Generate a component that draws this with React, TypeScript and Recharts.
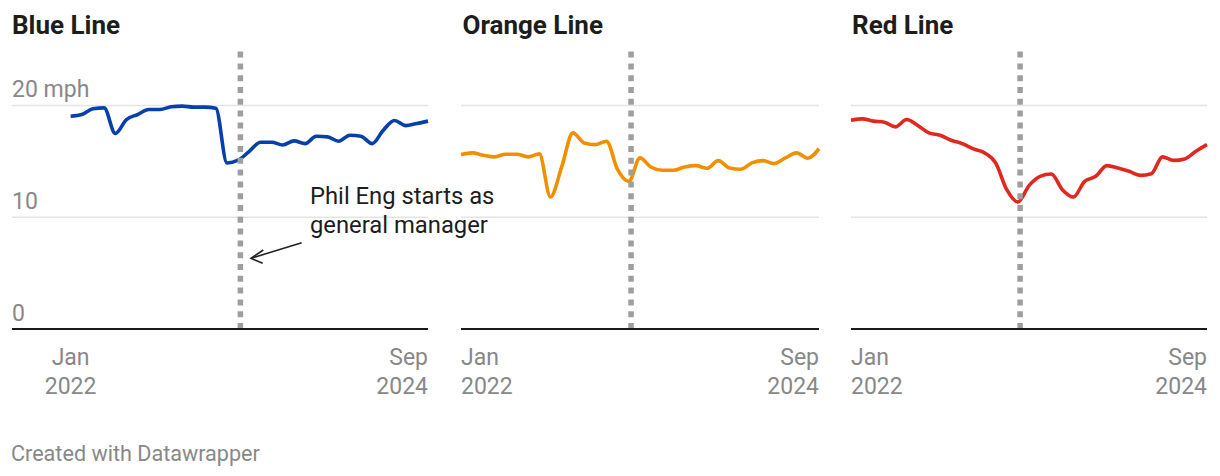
import React from "react";
import { Line, LineChart, ReferenceLine, XAxis, YAxis } from "recharts";

const months = [
  "2022-01", "2022-02", "2022-03", "2022-04", "2022-05", "2022-06", "2022-07", "2022-08", "2022-09", "2022-10", "2022-11", "2022-12",
  "2023-01", "2023-02", "2023-03", "2023-04", "2023-05", "2023-06", "2023-07", "2023-08", "2023-09", "2023-10", "2023-11", "2023-12",
  "2024-01", "2024-02", "2024-03", "2024-04", "2024-05", "2024-06", "2024-07", "2024-08", "2024-09"
];

// average speed, mph
const blueLine = [
  19.04, 19.19, 19.7, 19.79, 17.49, 18.74, 19.19, 19.64, 19.64, 19.88, 19.94, 19.85,
  19.85, 19.76, 14.86, 15.1, 15.9, 16.71, 16.71, 16.47, 16.83, 16.59, 17.25, 17.19,
  16.8, 17.34, 17.25, 16.59, 17.79, 18.65, 18.2, 18.39, 18.6
];
const orangeLine = [
  15.61, 15.76, 15.55, 15.4, 15.64, 15.64, 15.4, 15.67, 11.81, 14.5, 17.55, 16.65,
  16.5, 16.8, 14.26, 13.21, 15.31, 14.47, 14.2, 14.2, 14.5, 14.62, 14.38, 15.07,
  14.41, 14.29, 14.86, 15.07, 14.8, 15.31, 15.76, 15.28, 16.14
];
const redLine = [
  18.68, 18.8, 18.6, 18.5, 18.09, 18.74, 18.21, 17.55, 17.34, 16.89, 16.59, 16.11,
  15.76, 14.86, 12.47, 11.36, 12.83, 13.66, 13.87, 12.47, 11.81, 13.21, 13.66, 14.62,
  14.41, 14.11, 13.75, 13.9, 15.4, 15.09, 15.22, 15.9, 16.5
];

const yTicks = [0, 10, 20];
const yTickLabels = ["0", "10", "20 mph"];
const gridValues = [10, 20];
const xTicks = [0, 32];
const xTickLabels = [["Jan", "2022"], ["Sep", "2024"]];
const engStart = 15.2; // mid-April 2023, month index

const data = months.map((m, i) => ({
  i,
  month: m,
  blue: blueLine[i],
  orange: orangeLine[i],
  red: redLine[i]
}));

const GREY = "#888888";
const FONT = "Roboto, 'Noto Sans', sans-serif";

type PanelProps = {
  left: number;
  width: number;
  dataKey: string;
  color: string;
  xMin: number;
  firstAnchor: "middle" | "start";
  yLabels?: boolean;
};

function Panel({ left, width, dataKey, color, xMin, firstAnchor, yLabels }: PanelProps) {
  const xTick = (props: any) => {
    const idx = xTicks.indexOf(props.payload.value);
    const anchor = idx === 0 ? firstAnchor : "end";
    const [a, b] = xTickLabels[idx];
    return (
      <g>
        <text x={props.x} y={365} textAnchor={anchor} fontSize={23} fill={GREY}>{a}</text>
        <text x={props.x} y={393.5} textAnchor={anchor} fontSize={23} fill={GREY}>{b}</text>
      </g>
    );
  };

  const yTick = (props: any) => {
    if (!yLabels) return <g />;
    const idx = yTicks.indexOf(props.payload.value);
    return (
      <text x={12} y={props.y - 8.5} textAnchor="start" fontSize={23} fill={GREY}>
        {yTickLabels[idx]}
      </text>
    );
  };

  return (
    <div style={{ position: "absolute", left, top: 0 }}>
      <LineChart width={width} height={420} data={data} margin={{ top: 49.6, right: 12, bottom: 0, left: 12 }}>
        {gridValues.map((v) => (
          <ReferenceLine key={v} y={v} stroke="#e4e4e4" strokeWidth={1.5} />
        ))}
        <XAxis
          dataKey="i"
          type="number"
          domain={[xMin, 32]}
          ticks={xTicks}
          interval={0}
          height={91}
          tickLine={false}
          axisLine={{ stroke: "#1a1a1a", strokeWidth: 2 }}
          tick={xTick}
        />
        <YAxis
          type="number"
          domain={[0, 25]}
          ticks={yTicks}
          mirror
          axisLine={false}
          tickLine={false}
          tick={yTick}
        />
        <Line
          type="monotone"
          dataKey={dataKey}
          stroke={color}
          strokeWidth={3.6}
          dot={false}
          activeDot={false}
          isAnimationActive={false}
        />
        <ReferenceLine x={engStart} stroke="#9e9e9e" strokeWidth={5.5} strokeDasharray="6 5.8" />
      </LineChart>
    </div>
  );
}

export default function App() {
  return (
    <div
      style={{
        position: "absolute",
        left: 0,
        top: 0,
        width: 1220,
        height: 476,
        overflow: "hidden",
        background: "#fff",
        fontFamily: FONT
      }}
    >
      <Panel left={0} width={440} dataKey="blue" color="#0740a8" xMin={-5.25} firstAnchor="middle" yLabels />
      <Panel left={449} width={382} dataKey="orange" color="#f09000" xMin={0} firstAnchor="start" />
      <Panel left={839} width={380} dataKey="red" color="#e0281e" xMin={0} firstAnchor="start" />

      <svg
        width={1220}
        height={476}
        style={{ position: "absolute", left: 0, top: 0, pointerEvents: "none", fontFamily: FONT }}
      >
        <text x={12} y={34} fontSize={26} fontWeight={700} fill="#1d1d1d">Blue Line</text>
        <text x={462.5} y={34} fontSize={26} fontWeight={700} fill="#1d1d1d">Orange Line</text>
        <text x={852} y={34} fontSize={26} fontWeight={700} fill="#1d1d1d">Red Line</text>

        <text x={310} y={204.3} fontSize={23.8} fill="#1d1d1d">Phil Eng starts as</text>
        <text x={310} y={232.7} fontSize={23.8} fill="#1d1d1d">general manager</text>
        <line x1={301.7} y1={242.7} x2={251} y2={258.3} stroke="#222" strokeWidth={1.6} />
        <polyline points="263.3,250 251,258.3 262.7,263.3" fill="none" stroke="#222" strokeWidth={1.6} />

        <text x={11} y={461} fontSize={21.6} fill={GREY}>Created with Datawrapper</text>
      </svg>
    </div>
  );
}
